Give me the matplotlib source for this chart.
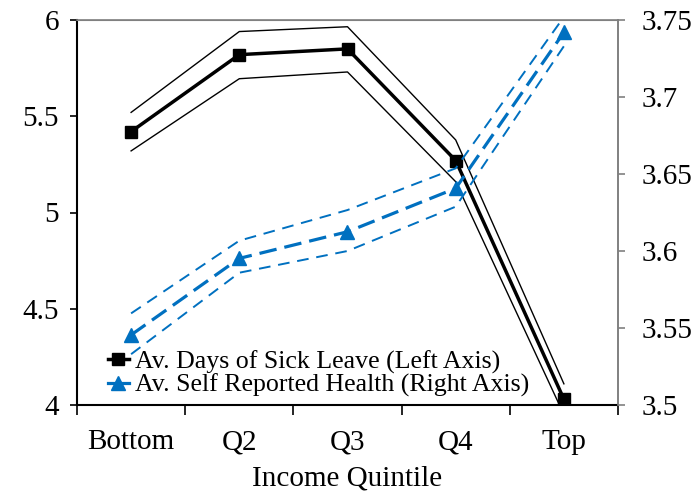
import matplotlib
matplotlib.use("Agg")
import matplotlib.pyplot as plt
import numpy as np
from matplotlib.lines import Line2D
from matplotlib.ticker import FixedLocator, NullFormatter

plt.rcParams['font.family'] = ['Liberation Serif', 'DejaVu Serif']

categories = ["Bottom", "Q2", "Q3", "Q4", "Top"]
sick_mean = [5.42, 5.82, 5.85, 5.27, 4.03]
sick_upper = [5.52, 5.94, 5.965, 5.377, 4.11]
sick_lower = [5.32, 5.695, 5.73, 5.16, 3.95]
health_mean = [3.5455, 3.5952, 3.6125, 3.6407, 3.742]
health_upper = [3.5595, 3.6067, 3.6266, 3.6537, 3.752]
health_lower = [3.533, 3.5859, 3.600, 3.6288, 3.733]

left_ticks = [4, 4.5, 5, 5.5, 6]
right_ticks = [3.5, 3.55, 3.6, 3.65, 3.7, 3.75]

black = "#000000"
blue = "#0070C0"
gray = "#808080"

fig = plt.figure(figsize=(6.94, 4.93), dpi=100)
ax = fig.add_axes([77/694, 1-405/493, (618-77)/694, (405-20)/493])
ax2 = ax.twinx()

x = np.arange(len(categories))

ax.plot(x, sick_upper, color=black, lw=1.0, zorder=2)
ax.plot(x, sick_lower, color=black, lw=1.0, zorder=2)
ax.plot(x, sick_mean, color=black, lw=2.5, marker='s', markersize=9, zorder=3)

ax2.plot(x, health_upper, color=blue, lw=1.4, ls=(0, (6, 4)), zorder=2)
ax2.plot(x, health_lower, color=blue, lw=1.4, ls=(0, (6, 4)), zorder=2)
ax2.plot(x, health_mean, color=blue, lw=2.3, ls=(0, (5.5, 2.5)), marker='^', markersize=10, zorder=3)

ax.set_xlim(-0.5, len(categories) - 0.5)
ax.set_ylim(4, 6)
ax2.set_ylim(3.5, 3.75)

ax.set_yticks(left_ticks)
ax.set_yticklabels(["4", "4.5", "5", "5.5", "6"])
ax2.set_yticks(right_ticks)
ax2.set_yticklabels(["3.5", "3.55", "3.6", "3.65", "3.7", "3.75"])

ax.set_xticks(x)
ax.set_xticklabels(categories)
ax.xaxis.set_minor_locator(FixedLocator(np.arange(-0.5, len(categories), 1.0)))
ax.xaxis.set_minor_formatter(NullFormatter())
ax.tick_params(axis='x', which='major', length=0, pad=17.5, labelsize=21)
ax.tick_params(axis='x', which='minor', length=7, width=1.2, color=black, direction='out')
ax.tick_params(axis='y', length=5, width=1.2, color=black, labelsize=21, pad=8)
ax2.tick_params(axis='y', length=5, width=1.2, color=gray, labelsize=21, pad=12)

for s in ['left', 'bottom']:
    ax.spines[s].set_color(black)
    ax.spines[s].set_linewidth(1.5)
for s in ['top', 'right']:
    ax.spines[s].set_color(gray)
    ax.spines[s].set_linewidth(1.2)
ax2.spines['right'].set_color(gray)
ax2.spines['right'].set_linewidth(1.2)
ax2.spines['top'].set_color(gray)
ax2.spines['left'].set_visible(False)
ax2.spines['bottom'].set_visible(False)

ax.set_xlabel("Income Quintile", fontsize=21, labelpad=7.5)

handles = [
    Line2D([], [], color=black, lw=2.5, marker='s', markersize=9),
    Line2D([], [], color=blue, lw=2.3, marker='^', markersize=10),
]
labels = ["Av. Days of Sick Leave (Left Axis)", "Av. Self Reported Health (Right Axis)"]
ax2.legend(handles, labels, loc='lower left', bbox_to_anchor=(0.0573, 0.02),
           frameon=False, fontsize=18.6, handlelength=0.8, handletextpad=0.25,
           labelspacing=0.0, borderaxespad=0.0, borderpad=0.0)

fig.savefig("out.png", dpi=100)
